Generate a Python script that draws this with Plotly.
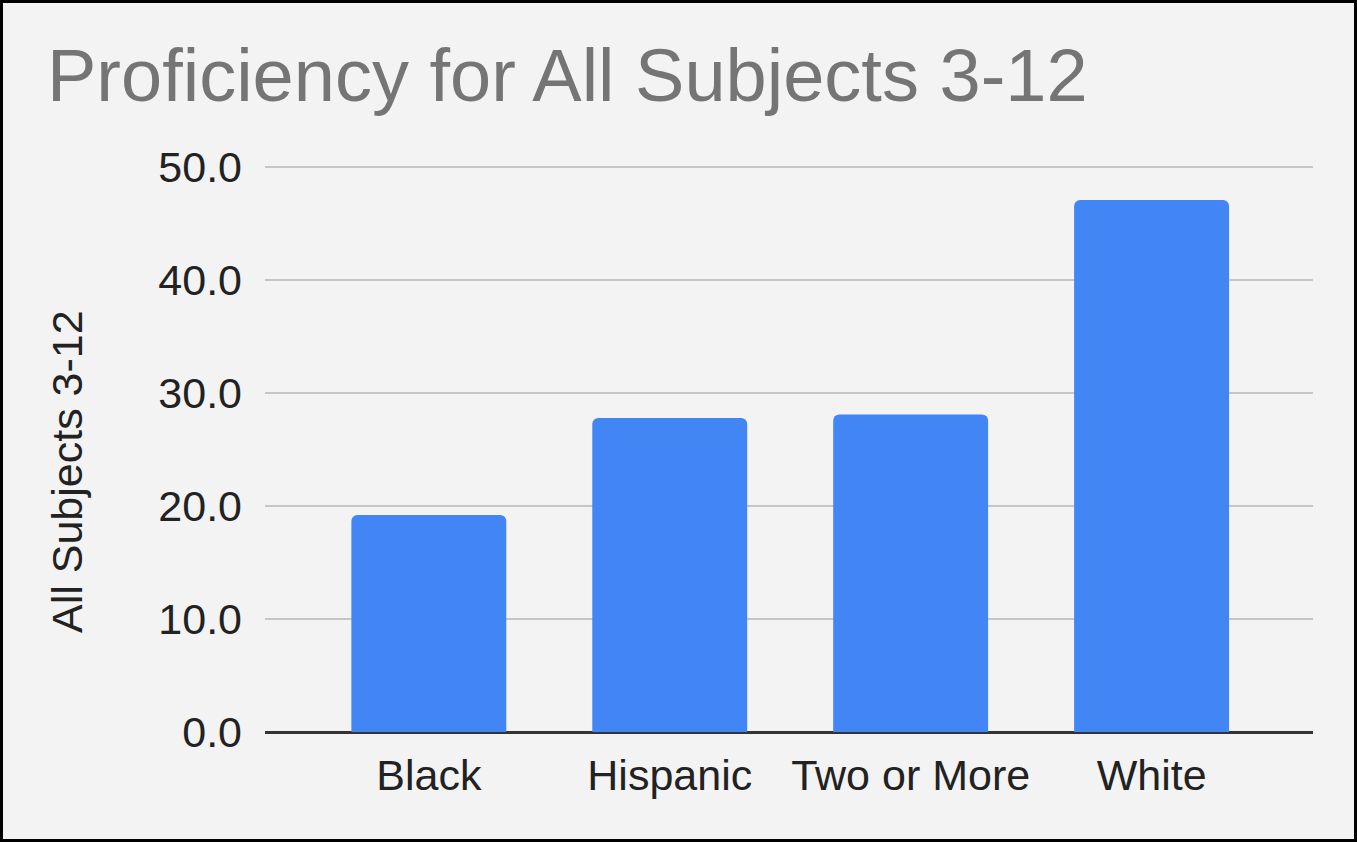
import plotly.graph_objects as go

# data
groups = ["Black", "Hispanic", "Two or More", "White"]
proficiency = [19.2, 27.8, 28.1, 47.1]
y_ticks = [0, 10, 20, 30, 40, 50]

W, H = 1357, 842
L, R, T, B = 265, 44, 166, 110
FONT = "Liberation Sans, Arial, sans-serif"
BG = "#f3f3f3"

fig = go.Figure(
    go.Bar(
        x=groups,
        y=proficiency,
        marker=dict(color="#4285f4", cornerradius=6, line=dict(width=0)),
        width=0.643,
        hoverinfo="x+y",
    )
)

# page border, converted from pixels to paper units
pw, ph = W - L - R, H - T - B
def px_x(p):
    return (p - L) / pw
def px_y(p):
    return (H - B - p) / ph

fig.add_shape(
    type="rect", xref="paper", yref="paper",
    x0=px_x(1.5), x1=px_x(W - 1.5), y0=px_y(H - 1.5), y1=px_y(1.5),
    line=dict(color="#000000", width=3), layer="above",
)

# y axis title sits a bit below the plot centre in the original
fig.add_annotation(
    text="All Subjects 3-12",
    xref="paper", yref="paper",
    x=px_x(67), y=px_y(472),
    xanchor="center", yanchor="middle",
    textangle=-90, showarrow=False,
    font=dict(family=FONT, size=43, color="#222222"),
)

fig.update_layout(
    width=W,
    height=H,
    margin=dict(l=L, r=R, t=T, b=B),
    paper_bgcolor=BG,
    plot_bgcolor=BG,
    showlegend=False,
    font=dict(family=FONT, size=43, color="#222222"),
    title=dict(
        text="Proficiency for All Subjects 3-12",
        font=dict(family=FONT, size=74, color="#757575"),
        xref="container", yref="container",
        x=47 / W, xanchor="left",
        y=1 - 75 / H, yanchor="middle",
    ),
    xaxis=dict(
        range=[-0.68, 3.67],
        showgrid=False,
        showline=False,
        ticks="",
        zeroline=False,
        tickfont=dict(size=43, color="#222222"),
        ticklabelstandoff=14,
    ),
    yaxis=dict(
        range=[0, 50.1],
        tickvals=y_ticks,
        ticktext=[f"{v:.1f}" for v in y_ticks],
        showgrid=True,
        gridcolor="#c6c6c6",
        gridwidth=2,
        zeroline=True,
        zerolinecolor="#333333",
        zerolinewidth=3,
        showline=False,
        ticks="",
        ticklabelstandoff=22,
        tickfont=dict(size=43, color="#222222"),
    ),
    bargap=0.357,
)

fig.write_html(
    "out.html",
    config={"displayModeBar": False},
    post_script="document.body.style.margin='0';",
)
